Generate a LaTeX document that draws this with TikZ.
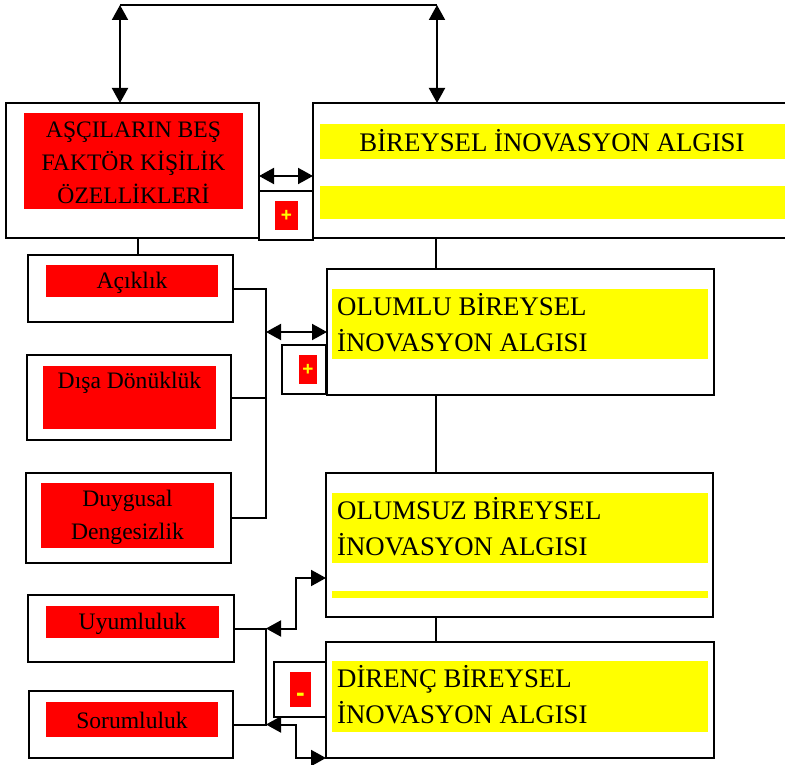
\documentclass[tikz,border=0pt]{standalone}
\usepackage{fontspec}
\setmainfont{Liberation Serif}
\newfontfamily\signfont{Liberation Sans}
\usetikzlibrary{arrows.meta}
\definecolor{boxred}{RGB}{255,0,0}
\definecolor{boxyellow}{RGB}{255,255,0}
\begin{document}
\begin{tikzpicture}[x=1pt,y=-1pt,
  outerbox/.style={draw=black, line width=2.4pt, fill=white, inner sep=0pt, outer sep=0pt},
  redfill/.style={fill=boxred, inner sep=0pt, outer sep=0pt},
  yellowfill/.style={fill=boxyellow, inner sep=0pt, outer sep=0pt},
  leftlbl/.style={inner sep=0pt, align=center, font=\fontsize{23.6}{33}\selectfont},
  rightlbl/.style={inner sep=0pt, align=left, anchor=west, font=\fontsize{26.8}{36}\selectfont},
  signlbl/.style={inner sep=0pt, text=boxyellow, font=\signfont\bfseries\fontsize{19}{19}\selectfont},
  conn/.style={line width=2pt},
  dblarrow/.style={line width=2pt, {Triangle[length=15pt,width=16pt]}-{Triangle[length=15pt,width=16pt]}}
]
\clip (0,0) rectangle (785,765);
\useasboundingbox (0,0) rectangle (785,765);

% small sign boxes
\node[outerbox, minimum width=54, minimum height=49] (p1) at (286,215.5) {};
\node[redfill, minimum width=23, minimum height=29] (p1r) at (286.5,215.5) {};
\node[signlbl] (p1t) at (286.5,216) {+};

\node[outerbox, minimum width=44, minimum height=49] (p2) at (304,369.5) {};
\node[redfill, minimum width=18, minimum height=29] (p2r) at (308,369.5) {};
\node[signlbl] (p2t) at (308,370) {+};

\node[outerbox, minimum width=52, minimum height=55] (m1) at (300,689.5) {};
\node[redfill, minimum width=21, minimum height=35] (m1r) at (300.5,689.5) {};
\node[signlbl, font=\signfont\bfseries\fontsize{26}{26}\selectfont] (m1t) at (300.5,697) {-};

% main left box
\node[outerbox, minimum width=253, minimum height=135] (A) at (132.5,170.5) {};
\node[redfill, minimum width=219, minimum height=96] (Ar) at (133.5,161) {};
\node[leftlbl] (At) at (133.5,163) {AŞÇILARIN BEŞ\\FAKTÖR KİŞİLİK\\ÖZELLİKLERİ};

% main right box (runs off the right edge)
\node[outerbox, minimum width=487, minimum height=135] (B) at (556.5,170.5) {};
\node[yellowfill, minimum width=480, minimum height=35] (By1) at (560,141.5) {};
\node[yellowfill, minimum width=480, minimum height=33] (By2) at (560,202.5) {};
\node[inner sep=0pt, font=\fontsize{26.8}{36}\selectfont] (Bt) at (552,141) {BİREYSEL İNOVASYON ALGISI};

% five factor boxes
\node[outerbox, minimum width=205, minimum height=67] (Ac) at (130.5,288.5) {};
\node[redfill, minimum width=172, minimum height=32] (Acr) at (132,281) {};
\node[leftlbl] (Act) at (132,283) {Açıklık};

\node[outerbox, minimum width=204, minimum height=85] (Di) at (129,397.5) {};
\node[redfill, minimum width=173, minimum height=63] (Dir) at (129.5,397.5) {};
\node[leftlbl] (Dit) at (129.5,383) {Dışa Dönüklük};

\node[outerbox, minimum width=205, minimum height=90] (Du) at (128.5,518) {};
\node[redfill, minimum width=173, minimum height=65] (Dur) at (127.5,515.5) {};
\node[leftlbl] (Dut) at (127.5,517) {Duygusal\\Dengesizlik};

\node[outerbox, minimum width=206, minimum height=67] (Uy) at (131,628.5) {};
\node[redfill, minimum width=173, minimum height=32] (Uyr) at (132.5,622) {};
\node[leftlbl] (Uyt) at (132.5,624) {Uyumluluk};

\node[outerbox, minimum width=204, minimum height=67] (So) at (131,724.5) {};
\node[redfill, minimum width=172, minimum height=35] (Sor) at (132,719.5) {};
\node[leftlbl] (Sot) at (132,720.5) {Sorumluluk};

% perception boxes
\node[outerbox, minimum width=387, minimum height=126] (OL) at (520.5,332) {};
\node[yellowfill, minimum width=376, minimum height=70] (OLy) at (520,324) {};
\node[rightlbl] (OLt) at (337,323) {OLUMLU BİREYSEL\\İNOVASYON ALGISI};

\node[outerbox, minimum width=387, minimum height=144] (OS) at (519.5,545) {};
\node[yellowfill, minimum width=376, minimum height=70] (OSy1) at (520,528) {};
\node[yellowfill, minimum width=376, minimum height=7] (OSy2) at (520,594.5) {};
\node[rightlbl] (OSt) at (337,527) {OLUMSUZ BİREYSEL\\İNOVASYON ALGISI};

\node[outerbox, minimum width=388, minimum height=116] (DR) at (520,700) {};
\node[yellowfill, minimum width=376, minimum height=71] (DRy) at (520,696.5) {};
\node[rightlbl] (DRt) at (337,695) {DİRENÇ BİREYSEL\\İNOVASYON ALGISI};

% helper coordinates
\coordinate (tl) at (120,5);
\coordinate (tr) at (437,5);
\coordinate (yAB) at (0,176);
\coordinate (x138) at (138,0);
\coordinate (x436) at (436,0);
\coordinate (br) at (266,0);
\coordinate (k1) at (296,578);
\coordinate (k2) at (296,758);

% top links
\draw[conn] (tl) -- (tr);
\draw[dblarrow] (tl |- A.north) -- (tl);
\draw[dblarrow] (tr |- B.north) -- (tr);
\draw[dblarrow] (A.east |- yAB) -- (B.west |- yAB);

% vertical trunk lines
\draw[conn] (A.south -| x138) -- (Ac.north -| x138);
\draw[conn] (B.south -| x436) -- (OL.north -| x436);
\draw[conn] (OL.south -| x436) -- (OS.north -| x436);
\draw[conn] (OS.south -| x436) -- (DR.north -| x436);

% upper bracket
\draw[conn] (Ac.east) -- (Ac.east -| br) -- (Du.east -| br) -- (Du.east);
\draw[conn] (Di.east) -- (Di.east -| br);
\draw[dblarrow] (OL.west -| br) -- (OL.west);

% lower bracket
\draw[conn] (Uy.east) -- (Uy.east -| br) -- (So.east -| br) -- (So.east);
\draw[dblarrow] (Uy.east -| br) -| (k1) -- (k1 -| OS.west);
\draw[dblarrow] (So.east -| br) -| (k2) -- (k2 -| DR.west);
\end{tikzpicture}
\end{document}
